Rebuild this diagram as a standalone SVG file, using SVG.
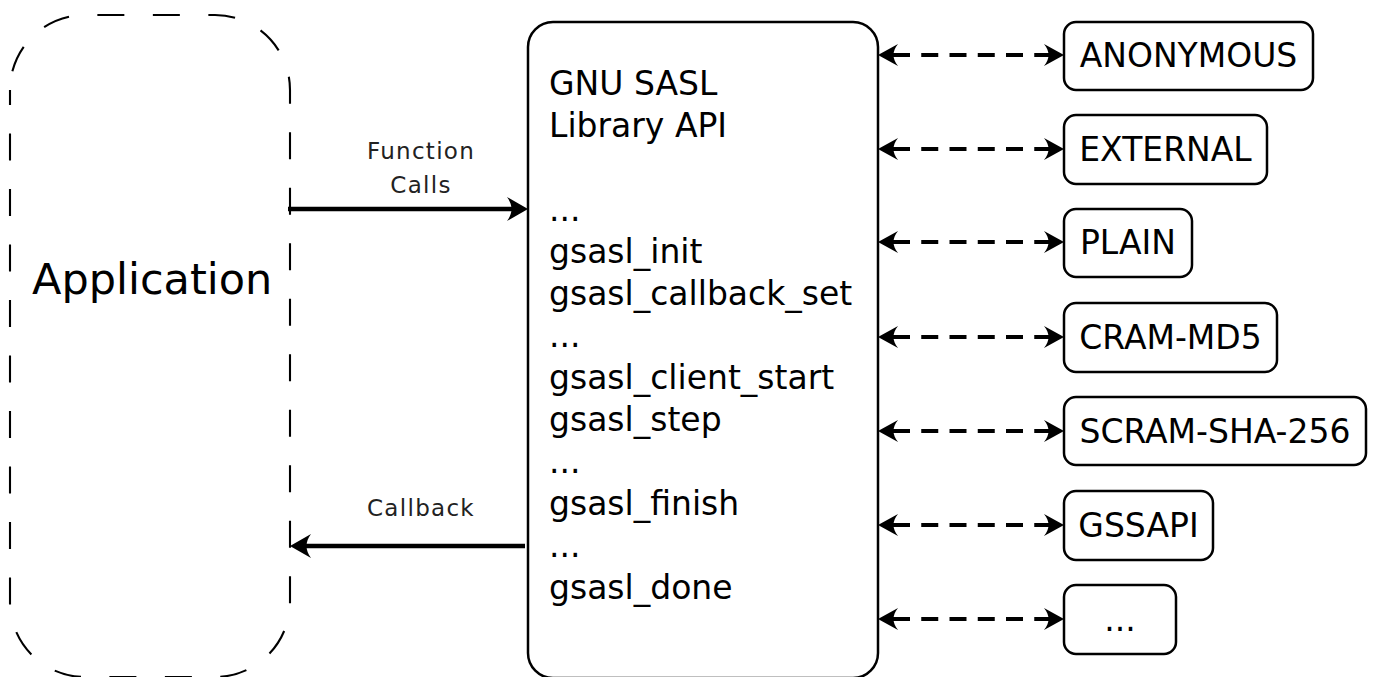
<svg xmlns="http://www.w3.org/2000/svg" width="1374" height="677" viewBox="0 0 1374 677">
<style>
text { font-family: "DejaVu Sans", "Liberation Sans", sans-serif; fill: #000; }
.box { fill: #fff; stroke: #000; stroke-width: 2.5; }
.main { font-size: 33px; }
.mech { font-size: 33px; text-anchor: middle; }
.lbl { font-size: 23px; letter-spacing: 1.3px; text-anchor: middle; fill: #222; }
.solid { stroke: #000; stroke-width: 4.5; fill: none; }
.dash { stroke: #000; stroke-width: 3.8; fill: none; stroke-dasharray: 17 11.25; stroke-dashoffset: -5; }
</style>
<defs>
<marker id="ah" markerUnits="userSpaceOnUse" markerWidth="40" markerHeight="40" viewBox="-30 -20 40 40" refX="-10" refY="0" orient="auto" overflow="visible">
<path d="M0,0 L-21,-12 C-15,-4 -15,4 -21,12 Z" fill="#000"/>
</marker>
<marker id="ahd" markerUnits="userSpaceOnUse" markerWidth="40" markerHeight="40" viewBox="-30 -20 40 40" refX="-10" refY="0" orient="auto-start-reverse" overflow="visible">
<path d="M0,0 L-20,-11 C-14,-4 -14,4 -20,11 Z" fill="#000"/>
</marker>
</defs>
<rect width="1374" height="677" fill="#fff"/>

<g id="application">
<path d="M10,90 L10,602 A75,75 0 0 0 85,677 L215,677 A75,75 0 0 0 290,602 L290,90 A75,75 0 0 0 215,15 L85,15 A75,75 0 0 0 10,90 Z" fill="none" stroke="#000" stroke-width="2.1" stroke-dasharray="27 28.5" stroke-dashoffset="12"/>
<text x="32" y="294" style="font-size:43px">Application</text>
</g>

<g id="library">
<rect class="box" x="528" y="22" width="350" height="656" rx="25" ry="25"/>
<text class="main" x="549" y="95">GNU SASL</text>
<text class="main" x="549" y="137">Library API</text>
<text class="main" x="549" y="221">...</text>
<text class="main" x="549" y="263">gsasl_init</text>
<text class="main" x="549" y="305">gsasl_callback_set</text>
<text class="main" x="549" y="347">...</text>
<text class="main" x="549" y="389">gsasl_client_start</text>
<text class="main" x="549" y="431">gsasl_step</text>
<text class="main" x="549" y="473">...</text>
<text class="main" x="549" y="515">gsasl_finish</text>
<text class="main" x="549" y="557">...</text>
<text class="main" x="549" y="599">gsasl_done</text>
</g>

<g id="mech-anonymous">
<rect class="box" x="1064" y="22" width="249" height="68" rx="12" ry="12"/>
<text class="mech" x="1188.5" y="67">ANONYMOUS</text>
</g>
<g id="mech-external">
<rect class="box" x="1064" y="115" width="203" height="69" rx="12" ry="12"/>
<text class="mech" x="1165.5" y="161">EXTERNAL</text>
</g>
<g id="mech-plain">
<rect class="box" x="1064" y="209" width="128" height="68" rx="12" ry="12"/>
<text class="mech" x="1128" y="254">PLAIN</text>
</g>
<g id="mech-cram">
<rect class="box" x="1064" y="303" width="213" height="69" rx="12" ry="12"/>
<text class="mech" x="1170.5" y="349">CRAM-MD5</text>
</g>
<g id="mech-scram">
<rect class="box" x="1064" y="397" width="302" height="68" rx="12" ry="12"/>
<text class="mech" x="1215" y="443">SCRAM-SHA-256</text>
</g>
<g id="mech-gssapi">
<rect class="box" x="1064" y="491" width="149" height="69" rx="12" ry="12"/>
<text class="mech" x="1138.5" y="537">GSSAPI</text>
</g>
<g id="mech-more">
<rect class="box" x="1064" y="585" width="112" height="69" rx="12" ry="12"/>
<text class="mech" x="1120" y="631">...</text>
</g>

<g id="connectors">
<line class="solid" x1="288" y1="209" x2="518" y2="209" marker-end="url(#ah)"/>
<text class="lbl" x="421" y="159">Function</text>
<text class="lbl" x="421" y="193">Calls</text>
<line class="solid" x1="525" y1="546" x2="300" y2="546" marker-end="url(#ah)"/>
<text class="lbl" x="421" y="516">Callback</text>
<line class="dash" x1="888" y1="55" x2="1054" y2="55" marker-start="url(#ahd)" marker-end="url(#ahd)"/>
<line class="dash" x1="888" y1="149" x2="1054" y2="149" marker-start="url(#ahd)" marker-end="url(#ahd)"/>
<line class="dash" x1="888" y1="242" x2="1054" y2="242" marker-start="url(#ahd)" marker-end="url(#ahd)"/>
<line class="dash" x1="888" y1="337" x2="1054" y2="337" marker-start="url(#ahd)" marker-end="url(#ahd)"/>
<line class="dash" x1="888" y1="431" x2="1054" y2="431" marker-start="url(#ahd)" marker-end="url(#ahd)"/>
<line class="dash" x1="888" y1="525" x2="1054" y2="525" marker-start="url(#ahd)" marker-end="url(#ahd)"/>
<line class="dash" x1="888" y1="619" x2="1054" y2="619" marker-start="url(#ahd)" marker-end="url(#ahd)"/>
</g>
</svg>
